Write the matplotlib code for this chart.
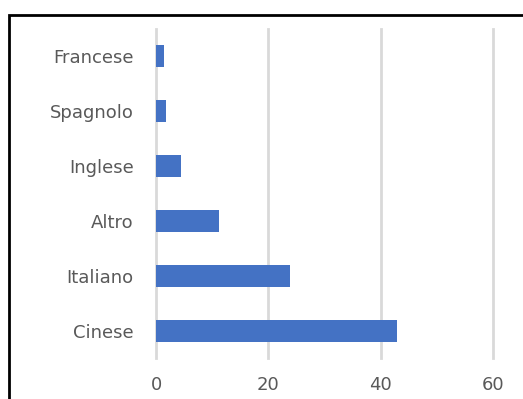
import matplotlib.pyplot as plt
from matplotlib.patches import Rectangle

languages = ['Cinese', 'Italiano', 'Altro', 'Inglese', 'Spagnolo', 'Francese']
values = [42.9, 23.9, 11.3, 4.5, 1.8, 1.4]
xticks = [0, 20, 40, 60]

fig = plt.figure(figsize=(5.23, 3.99), dpi=100)
ax = fig.add_axes([156 / 523, 41 / 399, 337 / 523, 329 / 399])

ax.barh(languages, values, height=0.4, color='#4472c4', zorder=3)

ax.set_xlim(0, 60)
ax.set_ylim(-0.5, 5.5)
ax.set_xticks(xticks)
ax.xaxis.grid(True, color='#d9d9d9', linewidth=2, zorder=0)
for gl in ax.get_xgridlines():
    gl.set_clip_on(False)
for s in ax.spines.values():
    s.set_visible(False)
ax.tick_params(axis='both', length=0, labelsize=13, labelcolor='#595959')
ax.tick_params(axis='x', pad=13)
ax.tick_params(axis='y', pad=16)

# outer frame, cut off on right and bottom like the screenshot
fig.patches.append(Rectangle((8.5 / 523, -0.1), 1.2, (399 - 14.5) / 399 + 0.1,
                             transform=fig.transFigure, fill=False,
                             edgecolor='black', linewidth=2))

fig.savefig('out.png', dpi=100)
